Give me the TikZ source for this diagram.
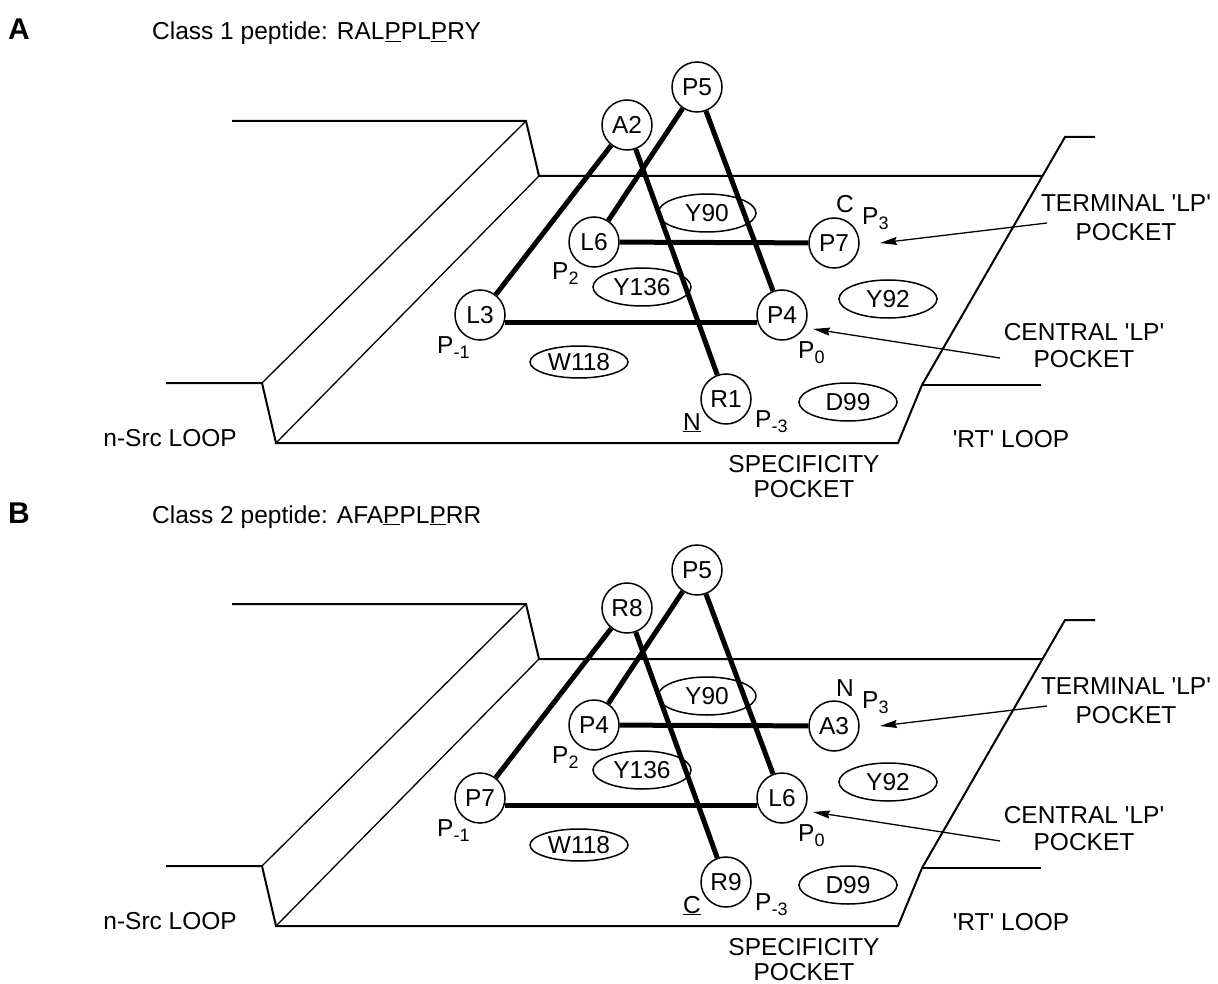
\documentclass[tikz,border=0pt]{standalone}
\usepackage{fontspec}
\setmainfont{Liberation Sans}
\usetikzlibrary{arrows.meta,shapes.geometric}
\newcommand\sbs[1]{\raisebox{-5pt}{\fontsize{18}{18}\selectfont #1}}
\newcommand\qq{\textquotesingle}
\begin{document}
\begin{tikzpicture}[x=1pt,y=-1pt,
  every node/.style={font=\fontsize{24.5}{28}\selectfont, inner sep=0pt},
  res/.style={circle, draw, line width=1.5pt, minimum size=50pt},
  site/.style={ellipse, draw, line width=1.5pt, minimum width=98pt, minimum height=38pt},
  bond/.style={line width=5pt},
  wall/.style={line width=2pt},
  thinwall/.style={line width=1.3pt},
  ptr/.style={line width=1.3pt, -{Stealth[length=17pt,width=8pt,inset=2pt]}},
  lbl/.style={anchor=base west},
  ttl/.style={anchor=base west},
  panel/.style={font=\fontsize{30}{34}\selectfont\bfseries, anchor=base west}]
\useasboundingbox (0,0) rectangle (1218,984);

% ================= Panel A =================
\node[panel] (hA) at (8,40) {A};
\node[ttl] (tA) at (152,40) {Class 1 peptide: RAL\underline{P}PL\underline{P}RY};

\draw[wall] (232,121) -- (526,121) -- (539,176) -- (1042,176);
\draw[thinwall] (526,121) -- (262,383);
\draw[thinwall] (539,176) -- (276,443);
\draw[wall] (166,383) -- (262,383) -- (276,443) -- (898,443) -- (922,385) -- (1065,137) -- (1095,137);
\draw[wall] (922,385) -- (1041,385);

\node[site] (a90) at (707,213) {Y90};
\node[site] (a136) at (642,287) {Y136};
\node[site, minimum height=32pt] (a118) at (579,362) {W118};
\node[site] (a92) at (888,299) {Y92};
\node[site] (a99) at (848,402) {D99};

\node[res] (aP5) at (697,87) {P5};
\node[res] (aA2) at (627,125) {A2};
\node[res] (aL6) at (594,242) {L6};
\node[res] (aL3) at (480,315) {L3};
\node[res] (aP4) at (782,315) {P4};
\node[res] (aR1) at (726,399) {R1};
\node[res] (aP7) at (834,243) {P7};

\draw[bond] (aA2) -- (aL3);
\draw[bond] (aA2) -- (aR1);
\draw[bond] (aP5) -- (aL6);
\draw[bond] (aP5) -- (aP4);
\draw[bond] (aL6) -- (aP7);
\draw[bond] (aL3.-16) -- (aP4.196);

\node[lbl] (ap2) at (552,280) {P\sbs{2}};
\node[lbl] (apm1) at (437,353) {P\sbs{-1}};
\node[lbl] (ap0) at (798,358) {P\sbs{0}};
\node[lbl] (apm3) at (755,427) {P\sbs{-3}};
\node[lbl] (ap3) at (862,225) {P\sbs{3}};
\node[lbl] (aC) at (836,213) {C};
\node[lbl] (aN) at (683,430) {\underline{N}};

\node[align=center, font=\fontsize{24.5}{29}\selectfont] (aterm) at (1126,218) {TERMINAL \qq LP\qq\\POCKET};
\node[align=center, font=\fontsize{24.5}{27}\selectfont] (acent) at (1084,346) {CENTRAL \qq LP\qq\\POCKET};
\node[align=center, font=\fontsize{24.5}{25}\selectfont] (aspec) at (804,477) {SPECIFICITY\\POCKET};
\node[anchor=base east] (asrc) at (237,446) {n-Src LOOP};
\node[anchor=base] (art) at (1011,447) {\qq RT\qq{} LOOP};

\coordinate (at1) at (1047,223);
\coordinate (at2) at (880,243);
\coordinate (ac1) at (1000,358);
\coordinate (ac2) at (813,329);
\draw[ptr] (at1) -- (at2);
\draw[ptr] (ac1) -- (ac2);

% ================= Panel B =================
\begin{scope}[yshift=-483pt]
\node[panel] (hB) at (8,40) {B};
\node[ttl] (tB) at (152,40) {Class 2 peptide: AFA\underline{P}PL\underline{P}RR};

\draw[wall] (232,121) -- (526,121) -- (539,176) -- (1042,176);
\draw[thinwall] (526,121) -- (262,383);
\draw[thinwall] (539,176) -- (276,443);
\draw[wall] (166,383) -- (262,383) -- (276,443) -- (898,443) -- (922,385) -- (1065,137) -- (1095,137);
\draw[wall] (922,385) -- (1041,385);

\node[site] (b90) at (707,213) {Y90};
\node[site] (b136) at (642,287) {Y136};
\node[site, minimum height=32pt] (b118) at (579,362) {W118};
\node[site] (b92) at (888,299) {Y92};
\node[site] (b99) at (848,402) {D99};

\node[res] (bP5) at (697,87) {P5};
\node[res] (bR8) at (627,125) {R8};
\node[res] (bP4) at (594,242) {P4};
\node[res] (bP7) at (480,315) {P7};
\node[res] (bL6) at (782,315) {L6};
\node[res] (bR9) at (726,399) {R9};
\node[res] (bA3) at (834,243) {A3};

\draw[bond] (bR8) -- (bP7);
\draw[bond] (bR8) -- (bR9);
\draw[bond] (bP5) -- (bP4);
\draw[bond] (bP5) -- (bL6);
\draw[bond] (bP4) -- (bA3);
\draw[bond] (bP7.-16) -- (bL6.196);

\node[lbl] (bp2) at (552,280) {P\sbs{2}};
\node[lbl] (bpm1) at (437,353) {P\sbs{-1}};
\node[lbl] (bp0) at (798,358) {P\sbs{0}};
\node[lbl] (bpm3) at (755,427) {P\sbs{-3}};
\node[lbl] (bp3) at (862,225) {P\sbs{3}};
\node[lbl] (bN) at (836,213) {N};
\node[lbl] (bC) at (683,430) {\underline{C}};

\node[align=center, font=\fontsize{24.5}{29}\selectfont] (bterm) at (1126,218) {TERMINAL \qq LP\qq\\POCKET};
\node[align=center, font=\fontsize{24.5}{27}\selectfont] (bcent) at (1084,346) {CENTRAL \qq LP\qq\\POCKET};
\node[align=center, font=\fontsize{24.5}{25}\selectfont] (bspec) at (804,477) {SPECIFICITY\\POCKET};
\node[anchor=base east] (bsrc) at (237,446) {n-Src LOOP};
\node[anchor=base] (brt) at (1011,447) {\qq RT\qq{} LOOP};

\coordinate (bt1) at (1047,223);
\coordinate (bt2) at (880,243);
\coordinate (bc1) at (1000,358);
\coordinate (bc2) at (813,329);
\draw[ptr] (bt1) -- (bt2);
\draw[ptr] (bc1) -- (bc2);
\end{scope}
\end{tikzpicture}
\end{document}
